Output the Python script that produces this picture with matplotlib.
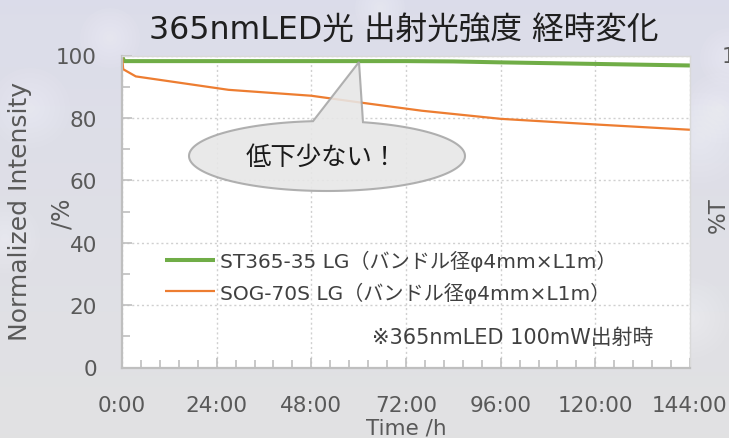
import matplotlib
matplotlib.use("Agg")
import matplotlib.pyplot as plt
from matplotlib.patches import Polygon, Circle
from matplotlib.ticker import MultipleLocator, FuncFormatter
import numpy as np

plt.rcParams['font.family'] = ['DejaVu Sans', 'Noto Sans CJK JP']

# data
green_t = [0, 0.5, 24, 48, 72, 84, 96, 120, 144]
green_v = [100, 98.2, 98.2, 98.2, 98.2, 98.1, 97.8, 97.3, 96.8]
orange_t = [0, 0.3, 3.5, 27, 48, 60, 76, 96, 120, 144]
orange_v = [100, 95.6, 93.3, 89.0, 87.1, 85.0, 82.3, 79.7, 77.9, 76.2]
labels = ['ST365-35 LG（バンドル径φ4mm×L1m）', 'SOG-70S LG（バンドル径φ4mm×L1m）']
title = '365nmLED光 出射光強度 経時変化'
note = '※365nmLED 100mW出射時'
callout = '低下少ない！'

W, H = 729, 439
fig = plt.figure(figsize=(W / 100, H / 100), dpi=100)

# background with soft bokeh
bg = fig.add_axes([0, 0, 1, 1], zorder=-10)
grad = np.linspace(0, 1, 200)[:, None] * np.ones((1, 10))
top = np.array([0.862, 0.866, 0.918])
bot = np.array([0.885, 0.885, 0.89])
img = top[None, None, :] * (1 - grad[..., None]) + bot[None, None, :] * grad[..., None]
bg.imshow(img, extent=[0, W, 0, H], aspect='auto', origin='upper')
for (cx, cy, r) in [(30, 330, 40), (110, 400, 30), (5, 200, 35), (700, 300, 45),
                    (690, 120, 40), (640, 150, 30), (730, 380, 30), (380, 430, 25),
                    (720, 330, 35)]:
    for k in range(8):
        bg.add_patch(Circle((cx, cy), r * (1 - k / 8), color='white', alpha=0.06, lw=0))
bg.set_xlim(0, W)
bg.set_ylim(0, H)
bg.axis('off')

ax = fig.add_axes([122 / W, 1 - 368.5 / H, 568 / W, 312 / H])
ax.set_facecolor('white')

ax.plot(green_t, green_v, color='#70ad47', lw=2.9, label=labels[0], solid_capstyle='butt')
ax.plot(orange_t, orange_v, color='#ed7d31', lw=1.6, label=labels[1], solid_capstyle='butt')

ax.set_xlim(0, 144)
ax.set_ylim(0, 100)
ax.xaxis.set_major_locator(MultipleLocator(24))
ax.xaxis.set_minor_locator(MultipleLocator(4.8))
ax.xaxis.set_major_formatter(FuncFormatter(lambda v, p: f'{int(round(v))}:00'))
ax.yaxis.set_major_locator(MultipleLocator(20))
ax.yaxis.set_minor_locator(MultipleLocator(10))

ax.grid(True, which='major', color='#d0d0d0', ls=(0, (1.5, 2)), lw=1)
ax.tick_params(which='both', direction='in', color='#bfbfbf', width=1.2,
               labelsize=15.5, labelcolor='#595959')
ax.tick_params(which='major', length=7)
ax.tick_params(which='minor', length=6)
ax.tick_params(axis='y', which='major', pad=18)
ax.tick_params(axis='x', which='major', pad=20)

for s in ['left', 'bottom']:
    ax.spines[s].set_color('#bfbfbf')
    ax.spines[s].set_linewidth(1.6)
for s in ['top', 'right']:
    ax.spines[s].set_color('#d9d9d9')
    ax.spines[s].set_linewidth(1)

fig.text(406 / W, 1 - 429 / H, 'Time /h', fontsize=15.5, color='#595959',
         ha='center', va='center')
fig.text(20 / W, 1 - 212 / H, 'Normalized Intensity', rotation=90, fontsize=18,
         color='#595959', ha='center', va='center')
fig.text(62 / W, 1 - 214 / H, '/%', rotation=90, fontsize=17,
         color='#595959', ha='center', va='center')

fig.text(404 / W, 1 - 31 / H, title, fontsize=22.8, color='#1f1f1f', ha='center', va='center')

leg = ax.legend(loc='upper left', bbox_to_anchor=(165 / W, 1 - 251 / H),
                bbox_transform=fig.transFigure, frameon=False, fontsize=14.5,
                handlelength=2.5, handletextpad=0.25, labelspacing=0.5,
                borderpad=0, borderaxespad=0)
for t in leg.get_texts():
    t.set_color('#404040')

fig.text(372 / W, 1 - 338 / H, note, fontsize=15, color='#404040', va='center')

# callout bubble
cx, cy, a, b = 327, H - 157, 138, 35
th1 = np.arccos((363 - cx) / a)
th2 = np.arccos((313 - cx) / a)
ths = np.linspace(th1, th2 - 2 * np.pi, 200)
pts = [(cx + a * np.cos(t), cy + b * np.sin(t)) for t in ths]
pts.append((359, H - 63))
pts = [(x / W, y / H) for x, y in pts]
fig.patches.append(Polygon(pts, closed=True, transform=fig.transFigure, facecolor='#e7e7e7',
                           edgecolor='#a6a6a6', lw=1.5, alpha=0.88, zorder=5))
fig.text(322 / W, 1 - 158 / H, callout, fontsize=18.3, color='#1a1a1a',
         ha='center', va='center', zorder=6)

# pieces of the neighbouring chart on the right edge
fig.text(718 / W, 1 - 215 / H, '%T', rotation=90, fontsize=16.5, color='#595959',
         ha='center', va='center')
fig.text(722 / W, 1 - 57 / H, '1', fontsize=15.5, color='#595959', ha='left', va='center')

fig.savefig('out.png', dpi=100)
